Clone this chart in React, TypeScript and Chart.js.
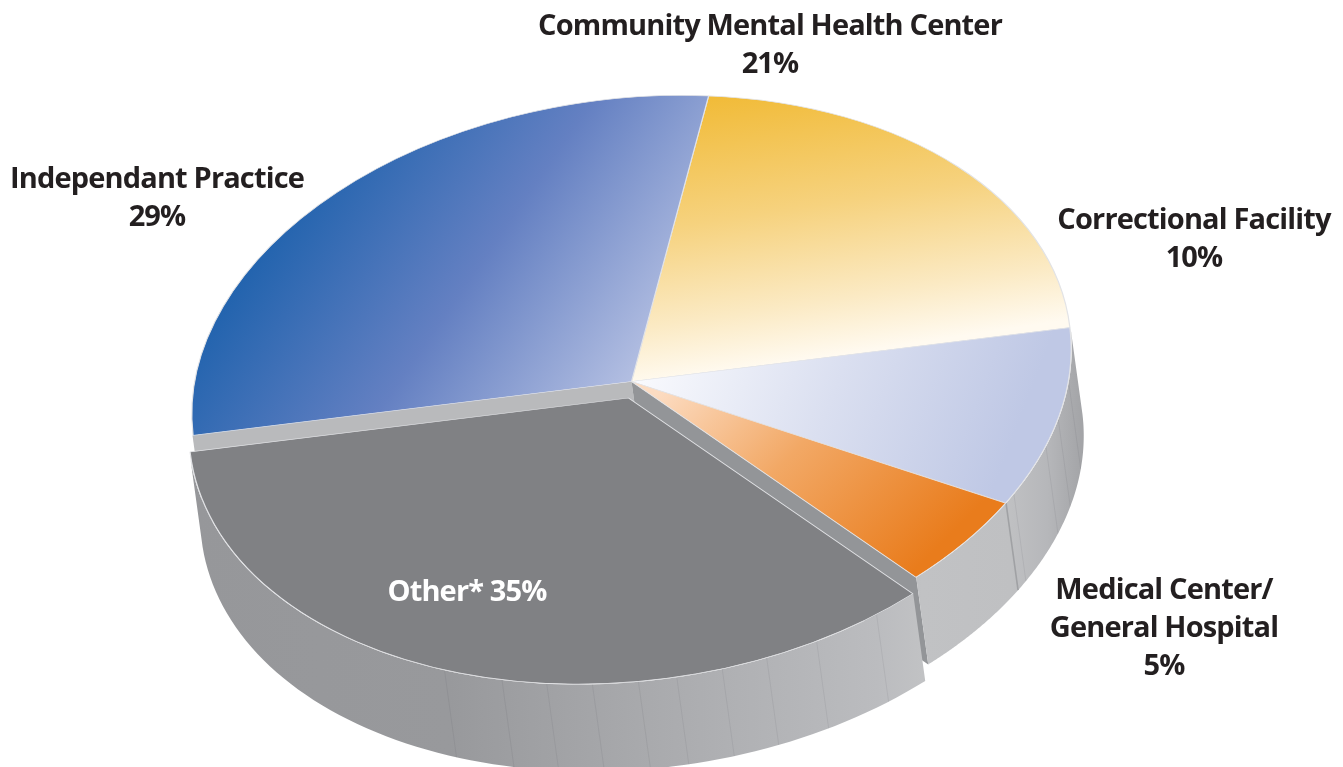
import React, { useEffect, useRef } from "react";
import { Chart, registerables } from "chart.js";

Chart.register(...registerables);

const categories = ["Community Mental Health Center", "Correctional Facility", "Medical Center/\nGeneral Hospital", "Other*", "Independant Practice"];
const shares = [21, 10, 5, 35, 29];
const correctionalFacets = [11, 18.5, 24, 34];
const otherFacets = [60, 69, 76, 82, 88, 93, 99, 105, 111, 119];

const W = 1343, H = 767;
const CENTER = { x: 631.5, y: 381.5 };
const AX = { e1: [439, -54], e2: [33, 281.4] };
const DEPTH = [12, 87];
const OTHER_SHIFT = [-3, 16.5];
const OTHER = 3, MEDICAL = 2, CORRECTIONAL = 1, INDEPENDENT = 4;
const FONT = "bold 29px 'Open Sans', 'Noto Sans', sans-serif";

const gradients: { from: number[]; to: number[]; stops: [number, string][] }[] = [
  { from: [720, 95], to: [770, 365], stops: [[0, "#f1bb38"], [0.45, "#f6d27e"], [0.8, "#fbeac4"], [1, "#fffaf0"]] },
  { from: [640, 385], to: [1020, 420], stops: [[0, "#f8f9fd"], [0.5, "#dadff0"], [1, "#bfc8e5"]] },
  { from: [650, 400], to: [965, 520], stops: [[0, "#fcdcc2"], [0.45, "#f2a865"], [1, "#e97c1c"]] },
  { from: [0, 0], to: [1, 0], stops: [[0, "#808184"], [1, "#808184"]] },
  { from: [215, 300], to: [630, 395], stops: [[0, "#1f62ad"], [0.5, "#6480c2"], [1, "#b6c1e3"]] },
];

function geometry(chart: any) {
  const a = chart.chartArea;
  const R = Math.min(a.right - a.left, a.bottom - a.top) / 2;
  return { cx: (a.left + a.right) / 2, cy: (a.top + a.bottom) / 2, R };
}

function toPie(chart: any, sx: number, sy: number) {
  const { cx, cy, R } = geometry(chart);
  const a = AX.e1[0] / R, b = AX.e1[1] / R, c = AX.e2[0] / R, d = AX.e2[1] / R;
  const det = a * d - b * c;
  const dx = sx - CENTER.x, dy = sy - CENTER.y;
  return [cx + (d * dx - c * dy) / det, cy + (-b * dx + a * dy) / det];
}

function sliceFill(ctx: any) {
  const chart = ctx.chart;
  if (!chart.chartArea) return "#808184";
  const g = gradients[ctx.dataIndex];
  const p0 = toPie(chart, g.from[0], g.from[1]);
  const p1 = toPie(chart, g.to[0], g.to[1]);
  const grad = chart.ctx.createLinearGradient(p0[0], p0[1], p1[0], p1[1]);
  g.stops.forEach(([o, col]) => grad.addColorStop(o, col));
  return grad;
}

function rim(theta: number, shift: number[]) {
  return [
    CENTER.x + shift[0] + Math.cos(theta) * AX.e1[0] + Math.sin(theta) * AX.e2[0],
    CENTER.y + shift[1] + Math.cos(theta) * AX.e1[1] + Math.sin(theta) * AX.e2[1],
  ];
}

function fillWall(ctx: CanvasRenderingContext2D, a0: number, a1: number, shift: number[], fill: any) {
  ctx.beginPath();
  const n = 80;
  for (let i = 0; i <= n; i++) {
    const p = rim(a0 + ((a1 - a0) * i) / n, shift);
    i ? ctx.lineTo(p[0], p[1]) : ctx.moveTo(p[0], p[1]);
  }
  for (let i = n; i >= 0; i--) {
    const p = rim(a0 + ((a1 - a0) * i) / n, shift);
    ctx.lineTo(p[0] + DEPTH[0], p[1] + DEPTH[1]);
  }
  ctx.closePath();
  ctx.fillStyle = fill;
  ctx.fill();
}

function facetLine(ctx: CanvasRenderingContext2D, deg: number, shift: number[], color: string, width = 0.8) {
  const p = rim((deg * Math.PI) / 180, shift);
  ctx.beginPath();
  ctx.moveTo(p[0], p[1]);
  ctx.lineTo(p[0] + DEPTH[0], p[1] + DEPTH[1]);
  ctx.strokeStyle = color;
  ctx.lineWidth = width;
  ctx.stroke();
}

function cutFace(ctx: CanvasRenderingContext2D, theta: number, fill: any) {
  const p = rim(theta, [0, 0]);
  ctx.beginPath();
  ctx.moveTo(CENTER.x, CENTER.y);
  ctx.lineTo(p[0], p[1]);
  ctx.lineTo(p[0] + DEPTH[0], p[1] + DEPTH[1]);
  ctx.lineTo(CENTER.x + DEPTH[0], CENTER.y + DEPTH[1]);
  ctx.closePath();
  ctx.fillStyle = fill;
  ctx.fill();
}

const pie3d = {
  id: "pie3d",
  beforeDatasetsDraw(chart: any) {
    const ctx: CanvasRenderingContext2D = chart.ctx;
    const arcs = chart.getDatasetMeta(0).data;
    const { cx, cy, R } = geometry(chart);

    const wall = ctx.createLinearGradient(191, 0, 1083, 0);
    ([[0, "#96979a"], [0.29, "#98999c"], [0.5, "#a8a9ac"], [0.77, "#bbbcbf"], [0.82, "#c1c2c4"], [0.92, "#bfc0c2"], [0.96, "#b6b7ba"], [1, "#a3a4a7"]] as [number, string][])
      .forEach(([o, c]) => wall.addColorStop(o, c));
    const facet = "rgba(60,60,65,0.11)";

    ctx.save();
    cutFace(ctx, arcs[INDEPENDENT].startAngle, "#b9babc");

    const cor = arcs[CORRECTIONAL];
    fillWall(ctx, cor.startAngle, cor.endAngle, [0, 0], wall);
    correctionalFacets.forEach((d) => facetLine(ctx, d, [0, 0], facet));

    const med = arcs[MEDICAL];
    cutFace(ctx, med.endAngle, "#939598");
    fillWall(ctx, med.startAngle, med.endAngle, [0, 0], wall);
    facetLine(ctx, (med.startAngle * 180) / Math.PI, [0, 0], "#a0a1a4", 1.6);

    const oth = arcs[OTHER];
    fillWall(ctx, oth.startAngle, oth.endAngle, OTHER_SHIFT, wall);
    otherFacets.forEach((d) => facetLine(ctx, d, OTHER_SHIFT, facet));
    ctx.restore();

    arcs.forEach((arc: any, i: number) => {
      const s = i === OTHER ? OTHER_SHIFT : [0, 0];
      ctx.save();
      ctx.translate(CENTER.x + s[0], CENTER.y + s[1]);
      ctx.transform(AX.e1[0] / R, AX.e1[1] / R, AX.e2[0] / R, AX.e2[1] / R, 0, 0);
      ctx.translate(-cx, -cy);
      arc.draw(ctx);
      ctx.restore();
    });
    return false;
  },
  afterDraw(chart: any) {
    const ctx: CanvasRenderingContext2D = chart.ctx;
    const placed = [
      { x: 770, y: 35, i: 0 },
      { x: 1194, y: 229, i: 1 },
      { x: 1164, y: 599, i: 2 },
      { x: 157, y: 188, i: 4 },
    ];
    ctx.save();
    ctx.font = FONT;
    (ctx as any).letterSpacing = "-0.85px";
    ctx.textAlign = "center";
    ctx.textBaseline = "alphabetic";
    ctx.fillStyle = "#231f20";
    placed.forEach(({ x, y, i }) => {
      const lines = [...categories[i].split("\n"), `${shares[i]}%`];
      lines.forEach((t, k) => ctx.fillText(t, x, y + k * 38));
    });
    ctx.fillStyle = "#ffffff";
    ctx.fillText(`${categories[OTHER]} ${shares[OTHER]}%`, 467, 601);
    ctx.restore();
  },
};

export default function App() {
  const ref = useRef<HTMLCanvasElement>(null);
  useEffect(() => {
    const chart = new Chart(ref.current!, {
      type: "pie",
      data: {
        labels: categories,
        datasets: [
          {
            data: shares,
            backgroundColor: sliceFill as any,
            borderColor: "#e2e3e6",
            borderWidth: 1,
            hoverOffset: 0,
          },
        ],
      },
      options: {
        responsive: false,
        animation: false,
        events: [],
        rotation: 14.4,
        plugins: { legend: { display: false }, tooltip: { enabled: false } },
      },
      plugins: [pie3d],
    });
    return () => chart.destroy();
  }, []);
  return (
    <div style={{ position: "absolute", left: 0, top: 0, width: W, height: H, background: "#fff" }}>
      <canvas ref={ref} width={W} height={H} style={{ display: "block" }} />
    </div>
  );
}
